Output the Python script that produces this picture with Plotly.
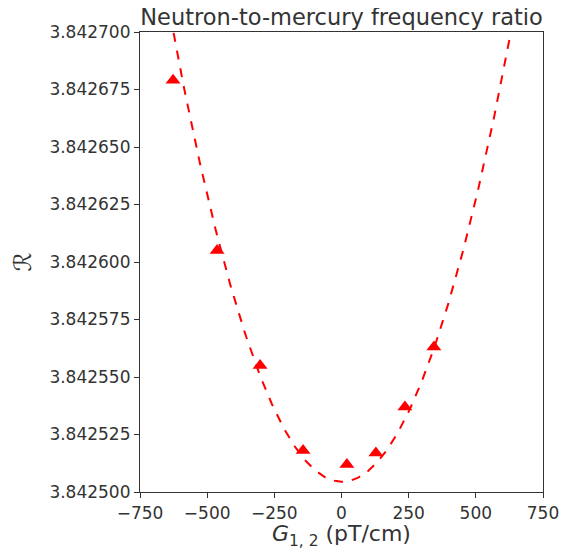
import numpy as np
import plotly.graph_objects as go

# gradient G_{1,2} (pT/cm) and measured ratio R
gradient = [-627, -463, -303, -143, 20, 128, 236, 344]
ratio = [3.842679, 3.842605, 3.842555, 3.842518, 3.842512, 3.842517, 3.842537, 3.842563]

# quadratic model shown as dashed line: R = r0 + b*G + a*G^2
fit_r0 = 3.8425045
fit_b = -2.0e-9
fit_a = 4.95e-10
g_fit = np.linspace(-750, 750, 301)
r_fit = fit_r0 + fit_b * g_fit + fit_a * g_fit ** 2

font_col = "#333333"

fig = go.Figure()
fig.add_trace(go.Scatter(
    x=g_fit, y=r_fit, mode="lines",
    line=dict(color="red", width=2, dash="dash"),
    showlegend=False, hoverinfo="skip"))
fig.add_trace(go.Scatter(
    x=gradient, y=ratio, mode="markers",
    marker=dict(symbol="triangle-up", color="red", size=13),
    showlegend=False))

axis_common = dict(
    showgrid=False, zeroline=False, showline=True, mirror=True,
    linecolor=font_col, linewidth=1.2, ticks="outside", ticklen=5,
    tickcolor=font_col, tickwidth=1.2, automargin=False,
    tickfont=dict(family="DejaVu Sans", size=17, color=font_col))

fig.update_xaxes(
    range=[-750, 750], tickvals=[-750, -500, -250, 0, 250, 500, 750],
    ticktext=["\u2212750", "\u2212500", "\u2212250", "0", "250", "500", "750"],
    title=dict(text="<i>G</i><sub>1, 2</sub> (pT/cm)", standoff=14,
               font=dict(family="DejaVu Sans", size=22, color=font_col)),
    **axis_common)
fig.update_yaxes(
    range=[3.8425, 3.8427],
    tickvals=[3.8425, 3.842525, 3.84255, 3.842575, 3.8426, 3.842625, 3.84265, 3.842675, 3.8427],
    tickformat=".6f",
    title=dict(text="\u211b", standoff=10,
               font=dict(family="DejaVu Sans", size=24, color=font_col)),
    **axis_common)

# page body adds an 8px offset, so the figure is 8px smaller than the window
fig.update_layout(
    width=570, height=542,
    margin=dict(l=132, r=35, t=24, b=58),
    paper_bgcolor="white", plot_bgcolor="white",
    title=dict(text="Neutron-to-mercury frequency ratio", x=0.5, xref="paper",
               y=1 - 9 / 542, yanchor="middle", automargin=False,
               font=dict(family="DejaVu Sans", size=22.5, color=font_col)),
)

fig.write_html("out.html")
